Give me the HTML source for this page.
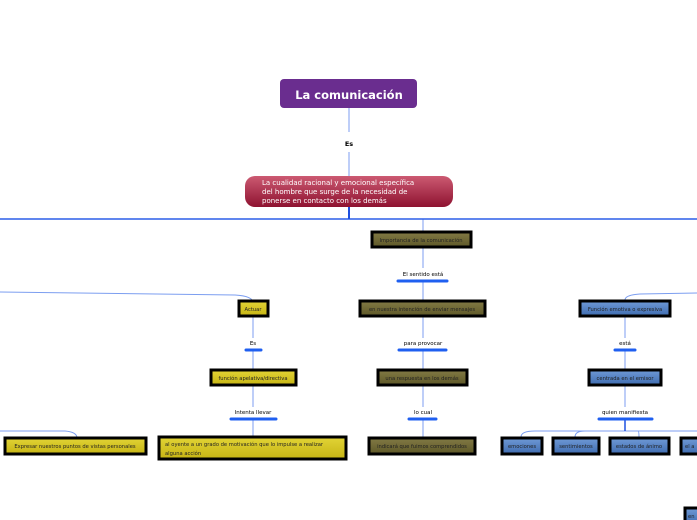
<!DOCTYPE html>
<html><head><meta charset="utf-8"><style>
html,body{margin:0;padding:0;background:#fff;}
svg{display:block;font-family:"DejaVu Sans","Liberation Sans",sans-serif;}
</style></head><body>
<svg width="697" height="520" viewBox="0 0 697 520" xmlns="http://www.w3.org/2000/svg">
<defs>
<linearGradient id="rg" x1="0" y1="0" x2="0" y2="1"><stop offset="0" stop-color="#cc5a72"/><stop offset="1" stop-color="#8e1230"/></linearGradient>
<linearGradient id="ol" x1="0" y1="0" x2="0" y2="1"><stop offset="0" stop-color="#827a45"/><stop offset="1" stop-color="#5e5828"/></linearGradient>
<linearGradient id="ye" x1="0" y1="0" x2="0" y2="1"><stop offset="0" stop-color="#e2d436"/><stop offset="1" stop-color="#c6b414"/></linearGradient>
<linearGradient id="bl" x1="0" y1="0" x2="0" y2="1"><stop offset="0" stop-color="#6f9ad6"/><stop offset="1" stop-color="#3f6cb0"/></linearGradient>
</defs>
<g stroke="#7c9ef0" stroke-width="1" fill="none">
<line x1="349" y1="108" x2="349" y2="132"/>
<line x1="349" y1="152" x2="349" y2="176"/>
<line x1="423" y1="219" x2="423" y2="232"/>
<line x1="423" y1="248" x2="423" y2="268"/>
<line x1="423" y1="281" x2="423" y2="300"/>
<line x1="423" y1="317" x2="423" y2="338"/>
<line x1="423" y1="350" x2="423" y2="369"/>
<line x1="423" y1="386" x2="423" y2="407"/>
<line x1="423" y1="419" x2="423" y2="437"/>
<line x1="253" y1="316" x2="253" y2="338"/>
<line x1="253" y1="350" x2="253" y2="369"/>
<line x1="253" y1="386" x2="253" y2="407"/>
<line x1="253" y1="419" x2="253" y2="437"/>
<path d="M0 292 L235 295 Q253 296 253 303"/>
<path d="M0 431 L65 431 Q77 432 77 438"/>
<path d="M697 293 L640 294 Q625 295 625 300"/>
<line x1="625" y1="317" x2="625" y2="338"/>
<line x1="625" y1="350" x2="625" y2="369"/>
<line x1="625" y1="386" x2="625" y2="407"/>
<path d="M521 437 Q521 431 535 431 L697 431"/>
<path d="M575 437 Q575 431 585 431"/>
<path d="M638 431 Q639 431 639 437"/>
</g>
<line x1="0" y1="219" x2="697" y2="219" stroke="#2b5ee8" stroke-width="1.5"/>
<line x1="349" y1="207" x2="349" y2="219" stroke="#1e50e0" stroke-width="2"/>
<line x1="625" y1="419" x2="625" y2="431" stroke="#1e50e0" stroke-width="1.5"/>
<g stroke="#1f5ff0" stroke-width="3" stroke-linecap="round">
<line x1="398" y1="281" x2="447" y2="281"/>
<line x1="399" y1="350" x2="446" y2="350"/>
<line x1="409" y1="419" x2="436" y2="419"/>
<line x1="246" y1="350" x2="261" y2="350"/>
<line x1="231" y1="419" x2="276" y2="419"/>
<line x1="615" y1="350" x2="635" y2="350"/>
<line x1="599" y1="419" x2="652" y2="419"/>
</g>
<rect x="280" y="79" width="137" height="29" rx="4" fill="#6a2d8f"/>
<text x="349" y="99" text-anchor="middle" font-size="11.5" font-weight="bold" fill="#fff">La comunicación</text>
<text x="349" y="146" text-anchor="middle" font-size="6.5" font-weight="bold" fill="#000">Es</text>
<rect x="245" y="176" width="208" height="31" rx="10" fill="url(#rg)"/>
<g font-size="7" fill="#fff"><text x="262" y="185">La cualidad racional y emocional específica</text><text x="262" y="194">del hombre que surge de la necesidad  de</text><text x="262" y="203">ponerse en contacto con los demás</text></g>
<g font-size="5.5" fill="#000" text-anchor="middle">
<text x="423" y="276">El sentido está</text>
<text x="423" y="345">para provocar</text>
<text x="423" y="414">lo cual</text>
<text x="253" y="345">Es</text>
<text x="253" y="414">Intenta llevar</text>
<text x="625" y="345">está</text>
<text x="625" y="414">quien manifiesta</text>
</g>
<g stroke="#000" stroke-width="3">
<rect x="372" y="232" width="99" height="15" fill="url(#ol)"/>
<rect x="360" y="301" width="125" height="15" fill="url(#ol)"/>
<rect x="378" y="370" width="89" height="15" fill="url(#ol)"/>
<rect x="369" y="438" width="106" height="16" fill="url(#ol)"/>
<rect x="239" y="301" width="29" height="15" fill="url(#ye)"/>
<rect x="211" y="370" width="85" height="15" fill="url(#ye)"/>
<rect x="159" y="437" width="187" height="22" fill="url(#ye)"/>
<rect x="5" y="438" width="141" height="16" fill="url(#ye)"/>
<rect x="580" y="301" width="90" height="15" fill="url(#bl)"/>
<rect x="589" y="370" width="72" height="15" fill="url(#bl)"/>
<rect x="502" y="438" width="40" height="16" fill="url(#bl)"/>
<rect x="553" y="438" width="46" height="16" fill="url(#bl)"/>
<rect x="610" y="438" width="59" height="16" fill="url(#bl)"/>
<rect x="681" y="438" width="20" height="16" fill="url(#bl)"/>
<rect x="685" y="508" width="16" height="16" fill="url(#bl)"/>
</g>
<g font-size="5.2" fill="#222" text-anchor="middle">
<text x="421" y="242">Importancia de la comunicación</text>
<text x="422" y="311">en nuestra intención de enviar mensajes</text>
<text x="422" y="380">una respuesta en los demás</text>
<text x="422" y="448">indicará que fuimos comprendidos</text>
<text x="253" y="311">Actuar</text>
<text x="253" y="380">función apelativa/directiva</text>
<text x="75" y="448">Expresar nuestros puntos de vistas personales</text>
<text x="625" y="311">Función emotiva o expresiva</text>
<text x="625" y="380">centrada en el emisor</text>
<text x="522" y="448">emociones</text>
<text x="576" y="448">sentimientos</text>
<text x="639" y="448">estados de ánimo</text>
</g>
<g font-size="5.2" fill="#222">
<text x="165" y="446">al oyente a un grado de motivación que lo  impulse a realizar</text>
<text x="165" y="455">alguna acción</text>
<text x="685" y="448">el a</text>
<text x="688" y="518">en</text>
</g>
</svg>
</body></html>
